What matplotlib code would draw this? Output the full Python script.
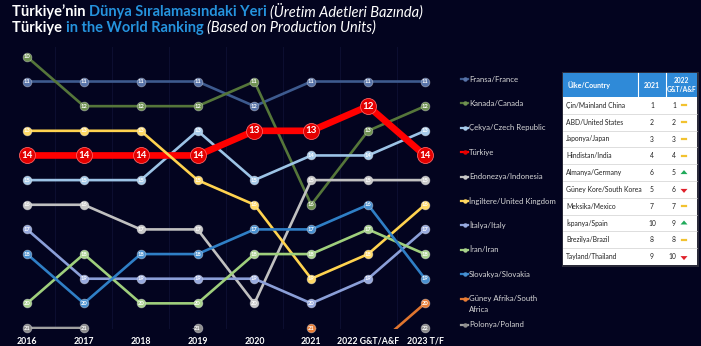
import numpy as np
import matplotlib
matplotlib.use('Agg')
import matplotlib.pyplot as plt
from matplotlib.lines import Line2D
from matplotlib.patches import Rectangle, Polygon

nan = np.nan
years = ['2016', '2017', '2018', '2019', '2020', '2021', '2022 G&T/A&F', '2023 T/F']

series_names = ['Fransa/France', 'Kanada/Canada', 'Çekya/Czech Republic', 'Türkiye',
                'Endonezya/Indonesia', 'İngiltere/United Kingdom', 'İtalya/Italy',
                'İran/Iran', 'Slovakya/Slovakia', 'Güney Afrika/South\nAfrica', 'Polonya/Poland']
france = [11, 11, 11, 11, 12, 11, 11, 11]
canada = [10, 12, 12, 12, 11, 16, 13, 12]
czech = [15, 15, 15, 13, 15, 14, 14, 13]
turkiye = [14, 14, 14, 14, 13, 13, 12, 14]
indonesia = [16, 16, 17, 17, 20, 15, 15, 15]
uk = [13, 13, 13, 15, 16, 19, 18, 16]
italy = [17, 19, 19, 19, 19, 20, 19, 17]
iran = [20, 18, 20, 20, 18, 18, 17, 18]
slovakia = [18, 20, 18, 18, 17, 17, 16, 19]
south_africa = [nan, nan, nan, nan, nan, 21, 22, 20]
poland = [21, 21, 22, 21, 22, 22, 22, 22]

table_countries = ['Çin/Mainland China', 'ABD/United States', 'Japonya/Japan', 'Hindistan/India',
                   'Almanya/Germany', 'Güney Kore/South Korea', 'Meksika/Mexico',
                   'İspanya/Spain', 'Brezilya/Brazil', 'Tayland/Thailand']
rank_2021 = [1, 2, 3, 4, 6, 5, 7, 10, 8, 9]
rank_2022 = [1, 2, 3, 4, 5, 6, 7, 9, 8, 10]

all_series = [france, canada, czech, turkiye, indonesia, uk, italy, iran, slovakia, south_africa, poland]
line_colors = ['#3d5a8e', '#55763a', '#9cc3e6', '#ff0000', '#c0c0c0', '#ffd34f', '#8b9fd8',
               '#9fcf7c', '#2f7fc6', '#e0752f', '#a0a0a0']
marker_colors = ['#5873a8', '#6f9152', '#a8cbea', '#e30000', '#c8c8c8', '#ffd966', '#98aade',
                 '#a9d18e', '#4a90cf', '#e87d36', '#8e8e8e']

W, H = 701, 346
BG = '#03041f'
FONT = 'Lato'
plt.rcParams['font.family'] = [FONT, 'DejaVu Sans']

fig = plt.figure(figsize=(W / 100, H / 100), dpi=100, facecolor=BG)

def fx(x):
    return x / W

def fy(y):
    return 1 - y / H

# main axes
ax_l, ax_r, ax_t, ax_b = 10, 442, 47, 329
ax = fig.add_axes([fx(ax_l), fy(ax_b), (ax_r - ax_l) / W, (ax_b - ax_t) / H])
ax.set_facecolor(BG)
for s in ax.spines.values():
    s.set_visible(False)
x = np.arange(len(years))
ax.set_xlim(-0.3, len(years) - 0.7)
ax.set_ylim(21.04, 9.6)
ax.set_yticks([])
ax.set_xticks(x)
ax.set_xticklabels(years, color='white', fontsize=6.3, fontweight='bold')
ax.tick_params(axis='x', length=0, pad=5.5)
for gx in np.arange(-0.5, len(years) + 0.5, 1.0):
    ax.axvline(gx, color='#0c0e30', lw=0.8, zorder=0)

floor = 21
for i, (vals, lc, mc) in enumerate(zip(all_series, line_colors, marker_colors)):
    v = np.array(vals, dtype=float)
    is_tr = (i == 3)
    lw = 4.8 if is_tr else 1.9
    ms = 11.5 if is_tr else 6.3
    z = 3 + i
    ax.plot(x, v, color=lc, lw=lw, zorder=z, solid_capstyle='butt')
    last = np.where(~np.isnan(v))[0][-1]
    show = (~np.isnan(v)) & ((v <= floor) | (np.arange(len(v)) == last))
    ym = np.minimum(v, floor)
    ax.plot(x[show], ym[show], ls='none', marker='o', ms=ms, mfc=mc,
            mec='#ff6060' if is_tr else '#ffffff60', mew=0.6, zorder=z + 0.5, clip_on=False)
    for xi, yi, vi in zip(x[show], ym[show], v[show]):
        ax.text(xi, yi, f'{int(vi)}', ha='center', va='center',
                fontsize=7 if is_tr else 4.2, fontweight='bold',
                color='white', zorder=30, clip_on=False)

renderer = fig.canvas.get_renderer()

def rich(xp, yp, parts, size):
    cur = xp
    for txt, color, weight, style in parts:
        t = fig.text(fx(cur), fy(yp), txt, color=color, fontsize=size, fontweight=weight,
                     fontstyle=style, ha='left', va='center')
        cur += t.get_window_extent(renderer).width

BLUE = '#2593dd'
rich(12, 12, [('Türkiye’nin ', 'white', 'bold', 'normal'),
              ('Dünya Sıralamasındaki Yeri ', BLUE, 'bold', 'normal'),
              ('(Üretim Adetleri Bazında)', 'white', 'normal', 'italic')], 10.5)
rich(12, 28, [('Türkiye ', 'white', 'bold', 'normal'),
              ('in the World Ranking ', BLUE, 'bold', 'normal'),
              ('(Based on Production Units)', 'white', 'normal', 'italic')], 10.5)

# legend
leg_y = [79 + 24.4 * k for k in range(10)] + [325]
for name, lc, mc, yy in zip(series_names, line_colors, marker_colors, leg_y):
    fig.add_artist(Line2D([fx(461), fx(468)], [fy(yy), fy(yy)], color=lc, lw=1.6))
    fig.add_artist(Line2D([fx(464.5)], [fy(yy)], color=mc, marker='o', ms=3.2, mew=0, ls='none'))
    first = name.split('\n')[0]
    fig.text(fx(469), fy(yy), first, color='#d8d8d8', fontsize=5.6, ha='left', va='center')
    if '\n' in name:
        fig.text(fx(469), fy(yy + 11), name.split('\n')[1], color='#d8d8d8', fontsize=5.6,
                 ha='left', va='center')

# table
tl, tr_, c1, c2 = 563, 697, 638, 666
ht, hb = 73, 97
row_h = 16.8
nrows = len(table_countries)
tb = hb + row_h * nrows
fig.add_artist(Rectangle((fx(tl - 1.5), fy(tb + 1.5)), (tr_ - tl + 3) / W, (tb - ht + 3) / H,
                         transform=fig.transFigure, facecolor='#2b2b3a', edgecolor='none', zorder=1))
fig.add_artist(Rectangle((fx(tl), fy(tb)), (tr_ - tl) / W, (tb - hb) / H,
                         transform=fig.transFigure, facecolor='white', edgecolor='none', zorder=2))
fig.add_artist(Rectangle((fx(tl), fy(hb)), (tr_ - tl) / W, (hb - ht) / H,
                         transform=fig.transFigure, facecolor='#2f8ad8', edgecolor='none', zorder=2))
for cx in (c1, c2):
    fig.add_artist(Line2D([fx(cx), fx(cx)], [fy(ht), fy(hb)], color='white', lw=0.8, zorder=3))
hy = (ht + hb) / 2
fig.text(fx(567), fy(hy), 'Ülke/Country', color='white', fontsize=5, fontweight='bold',
         ha='left', va='center', zorder=4)
fig.text(fx((c1 + c2) / 2), fy(hy), '2021', color='white', fontsize=5, fontweight='bold',
         ha='center', va='center', zorder=4)
fig.text(fx((c2 + tr_) / 2), fy(hy), '2022\nG&T/A&F', color='white', fontsize=4.8,
         fontweight='bold', ha='center', va='center', linespacing=1.3, zorder=4)
for k, (cn, r1, r2) in enumerate(zip(table_countries, rank_2021, rank_2022)):
    top = hb + row_h * k
    cy = top + row_h / 2
    if k > 0:
        fig.add_artist(Line2D([fx(tl), fx(tr_)], [fy(top), fy(top)], color='#d0d0d0', lw=0.5, zorder=3))
    fig.text(fx(566), fy(cy), cn, color='#222222', fontsize=4.9, ha='left', va='center', zorder=4)
    fig.text(fx((c1 + c2) / 2), fy(cy), str(r1), color='#222222', fontsize=4.9,
             ha='center', va='center', zorder=4)
    fig.text(fx(676), fy(cy), str(r2), color='#222222', fontsize=4.9,
             ha='right', va='center', zorder=4)
    sx = 684
    if r2 < r1:
        fig.add_artist(Polygon([(fx(sx - 3.5), fy(cy + 1.5)), (fx(sx + 3.5), fy(cy + 1.5)),
                                (fx(sx), fy(cy - 2.5))], closed=True, transform=fig.transFigure,
                               facecolor='#1faa5a', edgecolor='none', zorder=4))
    elif r2 > r1:
        fig.add_artist(Polygon([(fx(sx - 3.5), fy(cy - 0.5)), (fx(sx + 3.5), fy(cy - 0.5)),
                                (fx(sx), fy(cy + 3.5))], closed=True, transform=fig.transFigure,
                               facecolor='#e0202a', edgecolor='none', zorder=4))
    else:
        fig.add_artist(Line2D([fx(sx - 2), fx(sx + 2)], [fy(cy), fy(cy)], color='#f2c230',
                              lw=1.6, zorder=4))

fig.savefig('out.png', dpi=100, facecolor=BG)
